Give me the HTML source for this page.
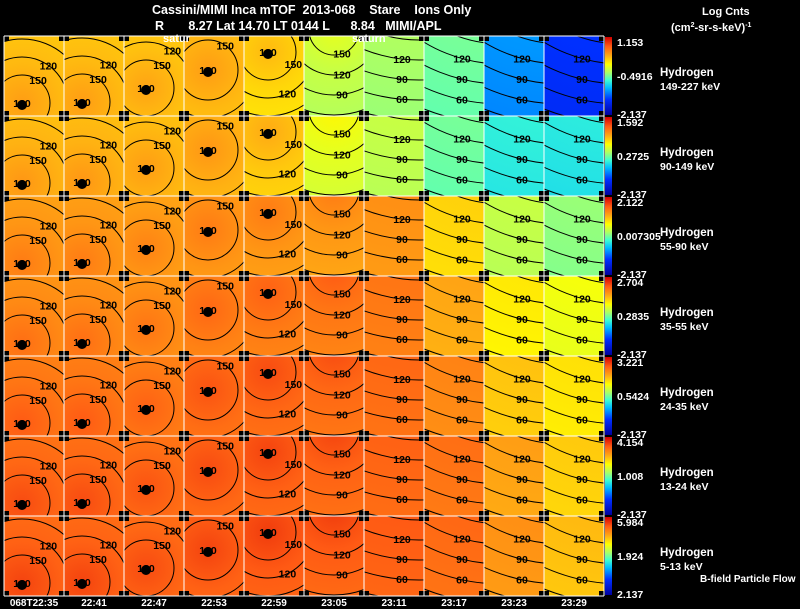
<!DOCTYPE html>
<html><head><meta charset="utf-8">
<style>
body{margin:0;background:#000;}
#wrap{position:relative;width:800px;height:609px;overflow:hidden;background:#000;font-family:"Liberation Sans",sans-serif;}
svg{display:block;}
svg text{font-family:"Liberation Sans",sans-serif;}
</style></head>
<body>
<div id="wrap">
<svg id="chart" width="800" height="609" xmlns="http://www.w3.org/2000/svg">
<defs><clipPath id="pclip"><rect x="0" y="0" width="60" height="80"/></clipPath></defs>
<text x="152" y="14" fill="#fff" font-size="12.5" font-weight="bold" xml:space="preserve">Cassini/MIMI Inca mTOF  2013-068    Stare    Ions Only</text>
<text x="155" y="30" fill="#fff" font-size="12.5" font-weight="bold" xml:space="preserve">R       8.27 Lat 14.70 LT 0144 L      8.84   MIMI/APL</text>
<text x="702" y="15" fill="#fff" font-size="11" font-weight="bold">Log Cnts</text>
<text x="671" y="31" fill="#fff" font-size="11" font-weight="bold">(cm<tspan font-size="7" dy="-4">2</tspan><tspan dy="4">-sr-s-keV)</tspan><tspan font-size="7" dy="-4">-1</tspan></text>
<g id="panels"></g>
<g id="overlay"></g>
<text x="163" y="42" fill="#fff" font-size="11" font-weight="bold">satur</text>
<text x="352" y="42" fill="#fff" font-size="11" font-weight="bold">saturn</text>
<text x="700" y="582" fill="#fff" font-size="10" font-weight="bold">B-field Particle Flow</text>
</svg>
</div>
<script>
const times=["068T22:35","22:41","22:47","22:53","22:59","23:05","23:11","23:17","23:23","23:29"];
const energies=["149-227 keV","90-149 keV","55-90 keV","35-55 keV","24-35 keV","13-24 keV","5-13 keV"];
const maxLabels=["1.153","1.592","2.122","2.704","3.221","4.154","5.984"];
const midLabels=["-0.4916","0.2725","0.007305","0.2835","0.5424","1.008","1.924"];
const minLabels=["-2.137","-2.137","-2.137","-2.137","-2.137","-2.137","2.137"];
// normalized panel level (0=blue,1=red) rows x columns
const level=[
[0.74,0.74,0.73,0.74,0.70,0.58,0.55,0.50,0.31,0.20],
[0.75,0.75,0.74,0.75,0.72,0.62,0.58,0.50,0.43,0.42],
[0.79,0.79,0.78,0.79,0.79,0.79,0.80,0.71,0.58,0.53],
[0.81,0.81,0.80,0.82,0.83,0.84,0.84,0.77,0.68,0.64],
[0.84,0.84,0.83,0.85,0.86,0.86,0.86,0.82,0.73,0.69],
[0.86,0.86,0.85,0.86,0.87,0.87,0.87,0.85,0.78,0.72],
[0.87,0.87,0.86,0.87,0.88,0.88,0.88,0.86,0.80,0.74]];
// look-direction centre (180 deg) per column, panel coords
const centerX=[18,18,22,24,24,30,55,78,78,78];
const centerY=[67,66,52,34,16,-6,-126,-122,-122,-122];
// contour ring geometry per column (radius of 150 ring, spacing per 30 deg)
const ringBase=[28,28,28,30,28,25,130,130,130,130];
const ringStep=[18,18,18,18,18,20,20,20,20,20];
const contourLabels=[180,150,120,90,60,30];

const X0=4,Y0=36,PW=60,PH=80;
const stops=[[0,[0,0,160]],[0.2,[0,48,255]],[0.35,[0,190,255]],[0.45,[64,255,208]],[0.55,[176,255,96]],[0.65,[255,255,0]],[0.76,[255,170,20]],[0.88,[255,90,20]],[1,[210,0,0]]];
function col(v){v=Math.max(0,Math.min(1,v));for(let i=1;i<stops.length;i++){if(v<=stops[i][0]){const a=stops[i-1],b=stops[i],t=(v-a[0])/(b[0]-a[0]);const c=a[1].map((x,k)=>Math.round(x+(b[1][k]-x)*t));return `rgb(${c.join(',')})`;}}return 'rgb(210,0,0)';}
function xPos(c){return X0+c*PW;}
function yPos(r){return Y0+r*PH;}
const NS="http://www.w3.org/2000/svg";
function mk(t,a,p){const e=document.createElementNS(NS,t);for(const k in a)e.setAttribute(k,a[k]);p.appendChild(e);return e;}
const g=document.getElementById('panels');
const defs=document.querySelector('defs');
const svg=document.getElementById('chart');
const angles=[-55,-35,-15,5,25,45,65,85,105,125,145,-75];
for(let r=0;r<level.length;r++){
 for(let c=0;c<times.length;c++){
  const v=level[r][c];
  const gid='gr'+r+'_'+c;
  const cx=centerX[c],cy=centerY[c];
  const rg=mk('radialGradient',{id:gid,gradientUnits:'userSpaceOnUse',cx:cx,cy:cy,r:cy<-50?260:100},defs);
  mk('stop',{offset:'0',['stop-color']:col(v+0.04)},rg);
  mk('stop',{offset:cy<-50?'0.5':'0.4',['stop-color']:col(v)},rg);
  mk('stop',{offset:'1',['stop-color']:col(v-0.03)},rg);
  const pg=mk('g',{transform:`translate(${xPos(c)},${yPos(r)})`,'clip-path':'url(#pclip)'},g);
  
  
  mk('rect',{x:0,y:0,width:PW,height:PH,fill:`url(#${gid})`},pg);
  for(let k=0;k<contourLabels.length;k++){
   const rad=k==0?0:ringBase[c]+ringStep[c]*(k-1);
   let tx,ty,ok=false;
   if(k==0){
    if(cy<4)continue;
    mk('circle',{cx:cx,cy:cy+2,r:5,fill:'#000'},pg);
    tx=cx;ty=cy;ok=true;
   } else {
    mk('circle',{cx:cx,cy:cy,r:rad,fill:'none',stroke:'#000','stroke-width':1},pg);
    if(cy<0){
     const px=38; const d=rad*rad-(px-cx)*(px-cx);
     if(d>0){const py=cy+Math.sqrt(d); if(py>=4&&py<=72){tx=px;ty=py;ok=true;}}
    } else {
     for(const a of angles){
      const px=cx+rad*Math.cos(a*Math.PI/180), py=cy+rad*Math.sin(a*Math.PI/180);
      if(px>=12&&px<=50&&py>=6&&py<=74){tx=px;ty=py;ok=true;break;}
     }
    }
   }
   if(!ok)continue;
   const t=mk('text',{x:tx,y:ty+4,'font-size':10.5,'font-weight':'bold',fill:'#000','text-anchor':'middle'},pg);
   t.textContent=contourLabels[k];
  }
 }
 const cb=mk('linearGradient',{id:'cb'+r,x1:0,y1:1,x2:0,y2:0},defs);
 for(let i=0;i<stops.length;i++)mk('stop',{offset:stops[i][0],['stop-color']:col(stops[i][0])},cb);
 const bar=mk('rect',{x:605,y:yPos(r)+1,width:7,height:PH-2,fill:`url(#cb${r})`},svg);
 
 
 const t1=mk('text',{x:617,y:yPos(r)+10,'font-size':10.5,'font-weight':'bold',fill:'#fff'},svg);t1.textContent=maxLabels[r];
 
 const t2=mk('text',{x:617,y:yPos(r)+44,'font-size':10.5,'font-weight':'bold',fill:'#fff'},svg);t2.textContent=midLabels[r];
 
 const t3=mk('text',{x:617,y:yPos(r)+PH+2,'font-size':10.5,'font-weight':'bold',fill:'#fff'},svg);t3.textContent=minLabels[r];
 
 const h1=mk('text',{x:660,y:yPos(r)+40,'font-size':11.5,'font-weight':'bold',fill:'#fff'},svg);h1.textContent='Hydrogen';
 
 const h2=mk('text',{x:660,y:yPos(r)+54,'font-size':10.5,'font-weight':'bold',fill:'#fff'},svg);h2.textContent=energies[r];
 
}
const ov=document.getElementById('overlay');
for(let r=0;r<=level.length;r++){
 for(let c=0;c<=times.length;c++){
  const n=mk('rect',{x:xPos(c)-5,y:yPos(r)-5,width:10,height:10,fill:'#000'},ov);
  
  
 }
}
for(let c=0;c<=times.length;c++){const l=mk('line',{x1:xPos(c),y1:Y0,x2:xPos(c),y2:Y0+level.length*PH,stroke:'#fff','stroke-width':1},ov);}
for(let r=0;r<=level.length;r++){const l=mk('line',{x1:X0,y1:yPos(r),x2:X0+times.length*PW,y2:yPos(r),stroke:'#fff','stroke-width':1},ov);}
for(let c=0;c<times.length;c++){
 const t=mk('text',{x:xPos(c)+PW/2,y:606,'font-size':10,'font-weight':'bold',fill:'#fff','text-anchor':'middle'},svg);
 t.textContent=times[c];
 
 
}
</script>
</body></html>
